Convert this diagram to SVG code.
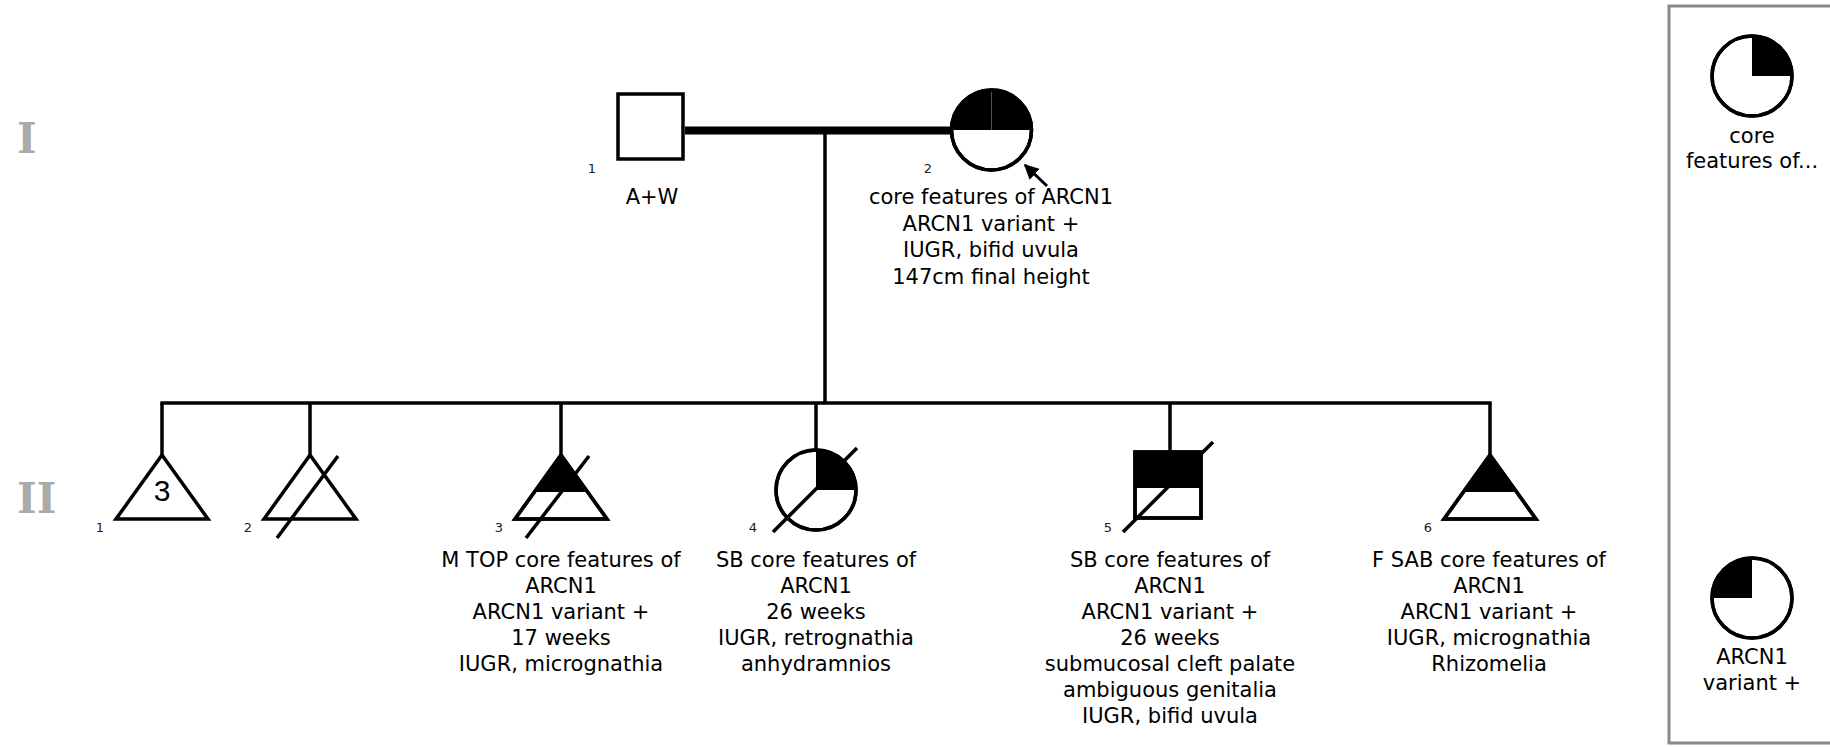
<svg xmlns="http://www.w3.org/2000/svg" width="1830" height="747" viewBox="0 0 1830 747">
<defs>
<style>
.sym{fill:#fff;stroke:#000;stroke-width:3.5}
.blk{fill:#000;stroke:none}
.ln{fill:none;stroke:#000;stroke-width:3.5}
.sl{fill:none;stroke:#000;stroke-width:3.5}
.gen{font-family:"DejaVu Serif",serif;font-weight:bold;font-size:42px;fill:#aaa}
.num{font-family:"DejaVu Sans",sans-serif;font-size:13px;fill:#222;text-anchor:middle}
.lbl{font-family:"DejaVu Sans",sans-serif;font-size:21px;fill:#000;text-anchor:middle}
.big{font-family:"Liberation Sans",Arial,sans-serif;font-size:30px;fill:#000;text-anchor:middle}
</style>
<marker id="ah" viewBox="0 0 10 10" refX="9" refY="5" markerWidth="5" markerHeight="5" orient="auto" markerUnits="strokeWidth">
<path d="M0,0 L10,5 L0,10 Z" fill="#000"/>
</marker>
</defs>
<rect width="1830" height="747" fill="#fff"/>

<text class="gen" x="17" y="153">I</text>
<text class="gen" x="17" y="513">II</text>

<g id="connectors">
<line x1="685" y1="130.5" x2="952" y2="130.5" stroke="#000" stroke-width="8"/>
<line class="ln" x1="825" y1="131" x2="825" y2="403"/>
<line class="ln" x1="160.3" y1="403" x2="1491.7" y2="403"/>
<line class="ln" x1="162" y1="403" x2="162" y2="455"/>
<line class="ln" x1="310" y1="403" x2="310" y2="455"/>
<line class="ln" x1="561" y1="403" x2="561" y2="455"/>
<line class="ln" x1="816" y1="403" x2="816" y2="450"/>
<line class="ln" x1="1170" y1="403" x2="1170" y2="452"/>
<line class="ln" x1="1490" y1="403" x2="1490" y2="455"/>
</g>

<g id="I-1">
<rect class="sym" x="618" y="94" width="65" height="65"/>
<text class="num" x="592" y="173">1</text>
<text class="lbl" x="652" y="204">A+W</text>
</g>

<g id="I-2">
<circle class="sym" cx="991.5" cy="130" r="40"/>
<path class="blk" d="M951.5,130 A40,40 0 0 1 1031.5,130 Z"/>
<line x1="991.5" y1="90" x2="991.5" y2="130" stroke="#555" stroke-width="1"/>
<circle cx="991.5" cy="130" r="40" fill="none" stroke="#000" stroke-width="3.5"/>
<line x1="1047" y1="186" x2="1025" y2="165" stroke="#000" stroke-width="3" marker-end="url(#ah)"/>
<text class="num" x="928" y="173">2</text>
<text class="lbl" x="991" y="204">core features of ARCN1</text>
<text class="lbl" x="991" y="230.5">ARCN1 variant +</text>
<text class="lbl" x="991" y="257">IUGR, bifid uvula</text>
<text class="lbl" x="991" y="283.5">147cm final height</text>
</g>

<g id="II-1">
<polygon class="sym" points="162,455 208,519 116,519"/>
<text class="big" x="162" y="501">3</text>
<text class="num" x="100" y="532">1</text>
</g>

<g id="II-2">
<polygon class="sym" points="310,455 356,519 264,519"/>
<line class="sl" x1="277" y1="538" x2="338" y2="456"/>
<text class="num" x="248" y="532">2</text>
</g>

<g id="II-3">
<polygon class="sym" points="561,455 607,519 515,519"/>
<polygon class="blk" points="561,455 587.6,492 534.4,492"/>
<polygon points="561,455 607,519 515,519" fill="none" stroke="#000" stroke-width="3.5"/>
<line class="sl" x1="526" y1="538" x2="589" y2="456"/>
<text class="num" x="499" y="532">3</text>
<text class="lbl" x="561" y="567">M TOP core features of</text>
<text class="lbl" x="561" y="593">ARCN1</text>
<text class="lbl" x="561" y="619">ARCN1 variant +</text>
<text class="lbl" x="561" y="645">17 weeks</text>
<text class="lbl" x="561" y="671">IUGR, micrognathia</text>
</g>

<g id="II-4">
<circle class="sym" cx="816" cy="490" r="40"/>
<path class="blk" d="M816,490 L816,450 A40,40 0 0 1 856,490 Z"/>
<circle cx="816" cy="490" r="40" fill="none" stroke="#000" stroke-width="3.5"/>
<line class="sl" x1="773" y1="532" x2="857" y2="448"/>
<text class="num" x="753" y="532">4</text>
<text class="lbl" x="816" y="567">SB core features of</text>
<text class="lbl" x="816" y="593">ARCN1</text>
<text class="lbl" x="816" y="619">26 weeks</text>
<text class="lbl" x="816" y="645">IUGR, retrognathia</text>
<text class="lbl" x="816" y="671">anhydramnios</text>
</g>

<g id="II-5">
<rect class="sym" x="1135" y="452" width="66" height="66"/>
<rect class="blk" x="1135" y="452" width="66" height="36"/>
<rect x="1135" y="452" width="66" height="66" fill="none" stroke="#000" stroke-width="3.5"/>
<line class="sl" x1="1123" y1="532" x2="1213" y2="442"/>
<text class="num" x="1108" y="532">5</text>
<text class="lbl" x="1170" y="567">SB core features of</text>
<text class="lbl" x="1170" y="593">ARCN1</text>
<text class="lbl" x="1170" y="619">ARCN1 variant +</text>
<text class="lbl" x="1170" y="645">26 weeks</text>
<text class="lbl" x="1170" y="671">submucosal cleft palate</text>
<text class="lbl" x="1170" y="697">ambiguous genitalia</text>
<text class="lbl" x="1170" y="723">IUGR, bifid uvula</text>
</g>

<g id="II-6">
<polygon class="sym" points="1490,455 1536,519 1444,519"/>
<polygon class="blk" points="1490,455 1516.6,492 1463.4,492"/>
<polygon points="1490,455 1536,519 1444,519" fill="none" stroke="#000" stroke-width="3.5"/>
<text class="num" x="1428" y="532">6</text>
<text class="lbl" x="1489" y="567">F SAB core features of</text>
<text class="lbl" x="1489" y="593">ARCN1</text>
<text class="lbl" x="1489" y="619">ARCN1 variant +</text>
<text class="lbl" x="1489" y="645">IUGR, micrognathia</text>
<text class="lbl" x="1489" y="671">Rhizomelia</text>
</g>

<g id="legend">
<rect x="1669" y="6" width="200" height="737" fill="none" stroke="#888" stroke-width="3"/>
<g id="legend-core">
<circle class="sym" cx="1752" cy="76" r="40"/>
<path class="blk" d="M1752,76 L1752,36 A40,40 0 0 1 1792,76 Z"/>
<circle cx="1752" cy="76" r="40" fill="none" stroke="#000" stroke-width="3.5"/>
<text class="lbl" x="1752" y="143">core</text>
<text class="lbl" x="1752" y="168">features of...</text>
</g>
<g id="legend-variant">
<circle class="sym" cx="1752" cy="598" r="40"/>
<path class="blk" d="M1752,598 L1752,558 A40,40 0 0 0 1712,598 Z"/>
<circle cx="1752" cy="598" r="40" fill="none" stroke="#000" stroke-width="3.5"/>
<text class="lbl" x="1752" y="664">ARCN1</text>
<text class="lbl" x="1752" y="690">variant +</text>
</g>
</g>
</svg>
